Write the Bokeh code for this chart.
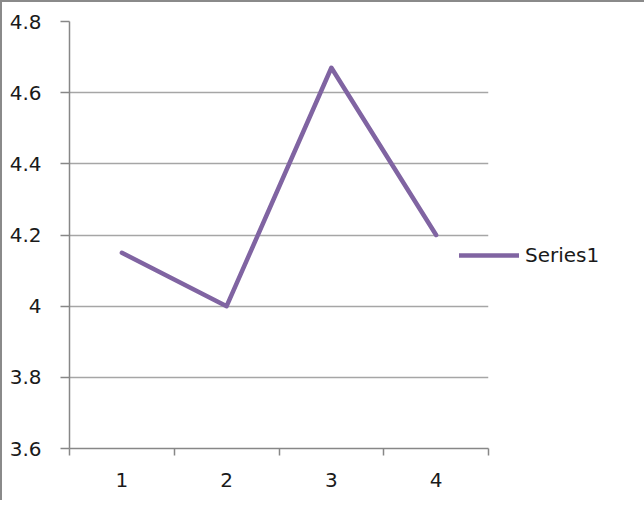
from bokeh.plotting import figure
from bokeh.models import FixedTicker, Legend, LegendItem, Range1d
from bokeh.embed import file_html
from bokeh.resources import INLINE

# ---- data ----
categories = [1, 2, 3, 4]
cat_labels = ["1", "2", "3", "4"]
series1 = [4.15, 4.0, 4.67, 4.2]
series_name = "Series1"
y_ticks = [3.6, 3.8, 4.0, 4.2, 4.4, 4.6, 4.8]
y_tick_labels = ["3.6", "3.8", "4", "4.2", "4.4", "4.6", "4.8"]

PURPLE = "#8064A2"
GRID = "#a6a6a6"
AXIS = "#878787"
FONT = "DejaVu Sans"

p = figure(width=626, height=498, output_backend="svg", toolbar_location=None,
           x_range=Range1d(0.5, 4.5), y_range=Range1d(3.6, 4.8),
           frame_width=419, frame_height=427,
           min_border_left=67, min_border_right=140,
           min_border_top=19, min_border_bottom=52)
p.styles = {"border-left": "2px solid #8a8a8a", "border-top": "2px solid #8a8a8a"}
p.outline_line_color = None
p.background_fill_color = "white"
p.border_fill_color = "white"

r = p.line(categories, series1, line_color=PURPLE, line_width=4.5,
           line_join="round", line_cap="round")

# y axis
ya = p.yaxis[0]
ya.ticker = FixedTicker(ticks=y_ticks)
ya.major_label_overrides = {t: l for t, l in zip(y_ticks, y_tick_labels)}
ya.axis_line_color = AXIS
ya.axis_line_width = 1.5
ya.major_tick_line_color = AXIS
ya.major_tick_line_width = 1.5
ya.major_tick_out = 9
ya.major_tick_in = 0
ya.minor_tick_line_color = None
ya.major_label_text_font = FONT
ya.major_label_text_font_size = "20px"
ya.major_label_text_color = "#1a1a1a"
ya.major_label_standoff = 19

# x axis
xa = p.xaxis[0]
xa.ticker = FixedTicker(ticks=categories, minor_ticks=[0.5, 1.5, 2.5, 3.5, 4.5])
xa.major_label_overrides = {c: l for c, l in zip(categories, cat_labels)}
xa.axis_line_color = AXIS
xa.axis_line_width = 1.5
xa.major_tick_line_color = None
xa.major_tick_out = 0
xa.major_tick_in = 0
xa.minor_tick_line_color = AXIS
xa.minor_tick_line_width = 1.5
xa.minor_tick_out = 7
xa.minor_tick_in = 0
xa.major_label_text_font = FONT
xa.major_label_text_font_size = "20px"
xa.major_label_text_color = "#1a1a1a"
xa.major_label_standoff = 17

p.xgrid.grid_line_color = None
p.ygrid.grid_line_color = GRID
p.ygrid.grid_line_width = 1.5

legend = Legend(items=[LegendItem(label=series_name, renderers=[r])],
                location=(-29, 181), orientation="vertical",
                glyph_width=60, glyph_height=20, label_height=20,
                label_standoff=6, padding=0, margin=0, spacing=0,
                border_line_color=None, background_fill_alpha=0,
                label_text_font=FONT, label_text_font_size="20px",
                label_text_color="#1a1a1a")
p.add_layout(legend, "right")

open("out.html", "w").write(file_html(p, INLINE))
